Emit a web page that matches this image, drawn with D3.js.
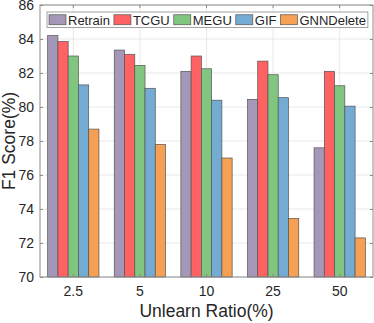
<!DOCTYPE html>
<html>
<head>
<meta charset="utf-8">
<script src="https://cdn.jsdelivr.net/npm/d3@7"></script>
<style>
    body { margin: 0; background: #fff; }
    text { font-family: "Liberation Sans", Arial, sans-serif; fill: #262626; }
</style>
</head>
<body>
<svg width="374" height="323"></svg>
<script>
// chart data
var ratios = ["2.5", "5", "10", "25", "50"];
var methods = ["Retrain", "TCGU", "MEGU", "GIF", "GNNDelete"];
var colors = ["#a597b8", "#fe6262", "#80c680", "#73abd3", "#f5a053"];

var retrain = [84.2, 83.35, 82.1, 80.45, 77.6];
var tcgu = [83.85, 83.1, 83.0, 82.7, 82.1];
var megu = [83.0, 82.45, 82.25, 81.9, 81.25];
var gif = [81.3, 81.1, 80.4, 80.55, 80.05];
var gnndelete = [78.7, 77.8, 77.0, 73.45, 72.3];

var yTicks = [70, 72, 74, 76, 78, 80, 82, 84, 86];

var series = [retrain, tcgu, megu, gif, gnndelete];

var svg = d3.select("svg"),
    margin = {
        top: 5,
        right: 1,
        bottom: 46,
        left: 40
    },
    width = +svg.attr("width") - margin.left - margin.right,
    height = +svg.attr("height") - margin.top - margin.bottom;

var g = svg.append("g")
    .attr("transform", "translate(" + margin.left + "," + margin.top + ")");

var x = d3.scaleBand()
    .domain(ratios)
    .range([0, width])
    .paddingInner(0.23)
    .paddingOuter(0.115);

var xm = d3.scaleBand()
    .domain(methods)
    .range([0, x.bandwidth()]);

var y = d3.scaleLinear()
    .domain([70, 86])
    .range([height, 0]);

// grid
g.append("g")
    .selectAll("line.hgrid")
    .data(yTicks)
    .enter().append("line")
    .attr("x1", 0)
    .attr("x2", width)
    .attr("y1", function(d) { return y(d); })
    .attr("y2", function(d) { return y(d); })
    .attr("stroke", "#e3e3e3")
    .attr("stroke-width", 0.8);

g.append("g")
    .selectAll("line.vgrid")
    .data(ratios)
    .enter().append("line")
    .attr("x1", function(d) { return x(d) + x.bandwidth() / 2; })
    .attr("x2", function(d) { return x(d) + x.bandwidth() / 2; })
    .attr("y1", 0)
    .attr("y2", height)
    .attr("stroke", "#e3e3e3")
    .attr("stroke-width", 0.8);

// bars
var rows = [];
ratios.forEach(function(r, i) {
    methods.forEach(function(m, j) {
        rows.push({ ratio: r, method: m, value: series[j][i], color: colors[j] });
    });
});

g.selectAll(".bar")
    .data(rows)
    .enter().append("rect")
    .attr("class", "bar")
    .attr("x", function(d) { return x(d.ratio) + xm(d.method); })
    .attr("y", function(d) { return y(d.value); })
    .attr("width", xm.bandwidth())
    .attr("height", function(d) { return height - y(d.value); })
    .attr("fill", function(d) { return d.color; })
    .attr("stroke", "#555")
    .attr("stroke-width", 0.7);

// frame + inward ticks
var tickColor = "#888";

g.append("g")
    .attr("transform", "translate(0," + height + ")")
    .call(d3.axisBottom(x).tickSizeInner(-3).tickSizeOuter(0).tickPadding(9))
    .call(function(a) {
        a.select(".domain").remove();
        a.selectAll(".tick line").attr("stroke", tickColor);
        a.selectAll("text").attr("font-size", "14px").attr("fill", "#262626")
            .attr("font-family", "Liberation Sans, Arial, sans-serif");
    });

g.append("g")
    .call(d3.axisTop(x).tickSizeInner(-3).tickSizeOuter(0).tickFormat(""))
    .call(function(a) {
        a.select(".domain").remove();
        a.selectAll(".tick line").attr("stroke", tickColor);
    });

g.append("g")
    .call(d3.axisLeft(y).tickValues(yTicks).tickSizeInner(-3).tickSizeOuter(0).tickPadding(6))
    .call(function(a) {
        a.select(".domain").remove();
        a.selectAll(".tick line").attr("stroke", tickColor);
        a.selectAll("text").attr("font-size", "14px").attr("fill", "#262626")
            .attr("font-family", "Liberation Sans, Arial, sans-serif");
    });

g.append("g")
    .attr("transform", "translate(" + width + ",0)")
    .call(d3.axisRight(y).tickValues(yTicks).tickSizeInner(-3).tickSizeOuter(0).tickFormat(""))
    .call(function(a) {
        a.select(".domain").remove();
        a.selectAll(".tick line").attr("stroke", tickColor);
    });

g.append("rect")
    .attr("width", width)
    .attr("height", height)
    .attr("fill", "none")
    .attr("stroke", "#8c8c8c")
    .attr("stroke-width", 1);

// axis labels
svg.append("text")
    .attr("x", margin.left + width / 2)
    .attr("y", 317)
    .attr("text-anchor", "middle")
    .attr("font-size", "17.5px")
    .text("Unlearn Ratio(%)");

svg.append("text")
    .attr("transform", "translate(15," + (margin.top + height / 2) + ") rotate(-90)")
    .attr("text-anchor", "middle")
    .attr("font-size", "17.5px")
    .text("F1 Score(%)");

// legend
var legend = svg.append("g")
    .attr("transform", "translate(47,12)");

var legendBox = legend.append("rect")
    .attr("height", 15.5)
    .attr("fill", "#fff")
    .attr("stroke", "#8c8c8c")
    .attr("stroke-width", 0.8);

var lx = 2;
methods.forEach(function(m, i) {
    legend.append("rect")
        .attr("x", lx)
        .attr("y", 2.75)
        .attr("width", 17)
        .attr("height", 10)
        .attr("fill", colors[i])
        .attr("stroke", "#555")
        .attr("stroke-width", 0.7);
    var t = legend.append("text")
        .attr("x", lx + 19)
        .attr("y", 12.5)
        .attr("font-size", "13px")
        .text(m);
    lx = lx + 19 + t.node().getComputedTextLength() + 4;
});
legendBox.attr("width", lx - 2);
</script>
</body>
</html>
